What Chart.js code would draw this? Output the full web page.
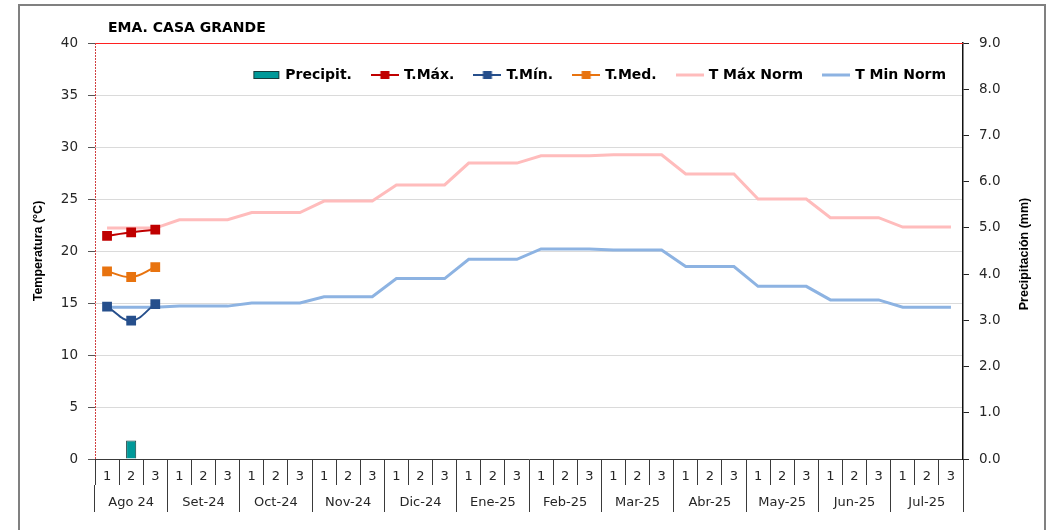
<!DOCTYPE html>
<html>
<head>
<meta charset="utf-8">
<script src="https://cdn.jsdelivr.net/npm/chart.js@4.4.1/dist/chart.umd.min.js"></script>
<style>
  html, body { margin: 0; padding: 0; background: #fff; overflow: hidden; }
  #wrap { position: relative; width: 1051px; height: 530px; }
</style>
</head>
<body>
<div id="wrap"><canvas id="mainChart" width="1051" height="530"></canvas></div>
<script>
// datos de la estación
const chartTitle = 'EMA. CASA GRANDE';
const months = ['Ago 24', 'Set-24', 'Oct-24', 'Nov-24', 'Dic-24', 'Ene-25',
  'Feb-25', 'Mar-25', 'Abr-25', 'May-25', 'Jun-25', 'Jul-25'];
const decades = [];
months.forEach(() => decades.push('1', '2', '3'));

const precip = [null, 0.4, null];
const tMax = [21.45, 21.8, 22.05];
const tMin = [14.65, 13.3, 14.9];
const tMed = [18.05, 17.5, 18.45];

const tMaxNorm = [22.2, 22.2, 22.2, 23.0, 23.0, 23.0, 23.7, 23.7, 23.7, 24.8, 24.8, 24.8,
  26.35, 26.35, 26.35, 28.45, 28.45, 28.45, 29.15, 29.15, 29.15, 29.25, 29.25, 29.25,
  27.4, 27.4, 27.4, 25.0, 25.0, 25.0, 23.2, 23.2, 23.2, 22.3, 22.3, 22.3];
const tMinNorm = [14.6, 14.6, 14.6, 14.7, 14.7, 14.7, 15.0, 15.0, 15.0, 15.6, 15.6, 15.6,
  17.35, 17.35, 17.35, 19.2, 19.2, 19.2, 20.2, 20.2, 20.2, 20.1, 20.1, 20.1,
  18.5, 18.5, 18.5, 16.6, 16.6, 16.6, 15.3, 15.3, 15.3, 14.6, 14.6, 14.6];

const FONT = 'DejaVu Sans';
const TXT = '#262626';

//Legend icons (line + marker, plain line, box)
function legendIcon(type, color) {
  const c = document.createElement('canvas');
  c.width = 28; c.height = 10;
  const g = c.getContext('2d');
  if (type === 'bar') {
    g.fillStyle = color;
    g.fillRect(1, 1, 26, 8);
    g.strokeStyle = '#163c3c';
    g.lineWidth = 1;
    g.strokeRect(1.5, 1.5, 25, 7);
    return c;
  }
  g.strokeStyle = color;
  g.lineWidth = type === 'norm' ? 3 : 2;
  g.beginPath();
  g.moveTo(0, 5);
  g.lineTo(28, 5);
  g.stroke();
  if (type === 'mark') {
    g.fillStyle = color;
    g.fillRect(9.5, 1, 9, 8);
  }
  return c;
}

const icons = [
  legendIcon('bar', '#009999'),
  legendIcon('mark', '#c00000'),
  legendIcon('mark', '#264f8c'),
  legendIcon('mark', '#e8730f'),
  legendIcon('norm', '#ffbcbc'),
  legendIcon('norm', '#8db3e2')
];

//Frame, title, plot border, legend inside the plot and right axis title
const decor = {
  id: 'decor',
  beforeUpdate(chart) {
    // legend in one row inside the plot
    if (chart.legend) chart.legend.isHorizontal = () => true;
  },
  afterLayout(chart) {
    const a = chart.chartArea;
    const lg = chart.legend;
    if (lg) {
      lg.left = a.left;
      lg.right = a.right + 4;
      lg.width = lg.right - lg.left;
      lg.top = a.top + 4;
    }
  },
  beforeDraw(chart) {
    const ctx = chart.ctx;
    ctx.save();
    ctx.fillStyle = '#fff';
    ctx.fillRect(0, 0, chart.width, chart.height);
    ctx.strokeStyle = '#808080';
    ctx.lineWidth = 2;
    ctx.strokeRect(19, 5, 1026, 560);
    ctx.restore();
  },
  afterDraw(chart) {
    const ctx = chart.ctx;
    const a = chart.chartArea;
    ctx.save();
    ctx.strokeStyle = '#ff2020';
    ctx.lineWidth = 1;
    ctx.beginPath();
    ctx.moveTo(a.left, a.top + 0.5);
    ctx.lineTo(a.right, a.top + 0.5);
    ctx.stroke();
    ctx.strokeStyle = '#d04040';
    ctx.setLineDash([2, 1]);
    ctx.beginPath();
    ctx.moveTo(a.left + 0.5, a.top);
    ctx.lineTo(a.left + 0.5, a.bottom);
    ctx.stroke();
    ctx.setLineDash([]);

    ctx.fillStyle = '#000';
    ctx.font = 'bold 14px "' + FONT + '"';
    ctx.textBaseline = 'middle';
    ctx.textAlign = 'left';
    ctx.fillText(chartTitle, 108, 28);

    ctx.translate(1025, (a.top + a.bottom) / 2 + 3);
    ctx.rotate(-Math.PI / 2);
    ctx.textAlign = 'center';
    ctx.font = 'bold 12.5px "Liberation Sans"';
    ctx.fillText('Precipitación (mm)', 0, 0);
    ctx.restore();
  }
};

const ctx = document.getElementById('mainChart').getContext('2d');
new Chart(ctx, {
  type: 'bar',
  data: {
    labels: decades,
    datasets: [
      {
        type: 'bar', label: 'Precipit.', data: precip, yAxisID: 'y1',
        backgroundColor: '#009999', borderColor: '#163c3c', borderWidth: 1,
        categoryPercentage: 1, barPercentage: 0.42
      },
      {
        type: 'line', label: 'T.Máx.', data: tMax, yAxisID: 'y',
        borderColor: '#c00000', backgroundColor: '#c00000', borderWidth: 2,
        pointStyle: 'rect', pointRadius: 5.5, tension: 0.3
      },
      {
        type: 'line', label: 'T.Mín.', data: tMin, yAxisID: 'y',
        borderColor: '#264f8c', backgroundColor: '#264f8c', borderWidth: 2,
        pointStyle: 'rect', pointRadius: 5.5, tension: 0.4
      },
      {
        type: 'line', label: 'T.Med.', data: tMed, yAxisID: 'y',
        borderColor: '#e8730f', backgroundColor: '#e8730f', borderWidth: 2,
        pointStyle: 'rect', pointRadius: 5.5, tension: 0.4
      },
      {
        type: 'line', label: 'T Máx Norm', data: tMaxNorm, yAxisID: 'y',
        borderColor: '#ffbcbc', borderWidth: 3, pointRadius: 0, tension: 0
      },
      {
        type: 'line', label: 'T Min Norm', data: tMinNorm, yAxisID: 'y',
        borderColor: '#8db3e2', borderWidth: 3, pointRadius: 0, tension: 0
      }
    ]
  },
  options: {
    responsive: false,
    animation: false,
    layout: { padding: { top: 43, left: 20, right: 12, bottom: 17 } },
    plugins: {
      tooltip: { enabled: false },
      title: { display: false },
      legend: {
        position: 'chartArea',
        align: 'end',
        labels: {
          usePointStyle: true,
          pointStyleWidth: 24,
          padding: 21,
          color: '#000',
          font: { family: FONT, size: 14, weight: 'bold' },
          generateLabels(chart) {
            return chart.data.datasets.map((ds, i) => ({
              text: ds.label,
              pointStyle: icons[i],
              fillStyle: ds.borderColor,
              strokeStyle: ds.borderColor,
              lineWidth: 0,
              hidden: false,
              datasetIndex: i
            }));
          }
        }
      }
    },
    scales: {
      x: {
        type: 'category',
        position: 'bottom',
        weight: 0,
        offset: true,
        afterFit(scale) { scale.height = 26; },
        grid: {
          display: true, offset: true, drawOnChartArea: false,
          tickLength: 26, tickColor: '#3a3a3a', color: '#3a3a3a'
        },
        border: { display: true, color: '#3a3a3a', width: 1 },
        ticks: {
          autoSkip: false, maxRotation: 0, padding: -16,
          color: TXT, font: { family: FONT, size: 13 }
        }
      },
      x2: {
        type: 'category',
        axis: 'x',
        position: 'bottom',
        weight: 1,
        labels: months,
        offset: true,
        afterFit(scale) { scale.height = 28; },
        grid: {
          display: true, offset: true, drawOnChartArea: false,
          tickLength: 27, tickColor: '#3a3a3a', color: '#3a3a3a'
        },
        border: { display: false },
        ticks: {
          autoSkip: false, maxRotation: 0, padding: -17,
          color: TXT, font: { family: FONT, size: 13 }
        }
      },
      y: {
        position: 'left',
        min: 0, max: 40,
        afterFit(scale) { scale.width = 75; },
        ticks: {
          stepSize: 5, padding: 10,
          color: TXT, font: { family: FONT, size: 13.5 }
        },
        grid: { color: '#dadada', tickLength: 7, tickColor: '#555' },
        border: { display: false },
        title: {
          display: true, text: 'Temperatura (°C)', color: '#000',
          padding: { top: 11, bottom: 0 },
          font: { family: 'Liberation Sans', size: 12.5, weight: 'bold' }
        }
      },
      y1: {
        position: 'right',
        min: 0, max: 9,
        afterFit(scale) { scale.width = 76; },
        ticks: {
          stepSize: 1, padding: 10,
          color: TXT, font: { family: FONT, size: 13.5 },
          callback: v => Number(v).toFixed(1)
        },
        grid: { drawOnChartArea: false, tickLength: 6, tickColor: '#222' },
        border: { display: true, color: '#111', width: 1.5 }
      }
    }
  },
  plugins: [decor]
});
</script>
</body>
</html>
